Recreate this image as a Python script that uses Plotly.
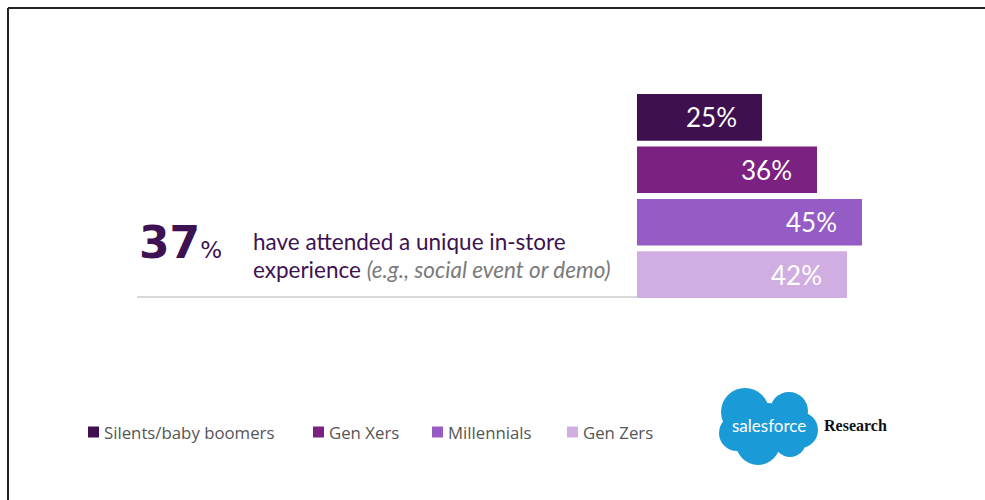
import plotly.graph_objects as go

# --- data -------------------------------------------------------------
generations = ["Silents/baby boomers", "Gen Xers", "Millennials", "Gen Zers"]
share_pct = [25, 36, 45, 42]
bar_colors = ["#3E1050", "#7A2182", "#945CC4", "#D1AEE1"]
headline_pct = 37

W, H = 985, 500


def px(x):
    """pixel x -> paper x"""
    return x / W


def py(y):
    """pixel y (from top) -> paper y"""
    return 1 - y / H


fig = go.Figure()

for name, val, col in zip(generations, share_pct, bar_colors):
    fig.add_trace(go.Bar(
        x=[val], y=[name], orientation="h", name=name,
        marker=dict(color=col, line=dict(width=0)),
        hoverinfo="x+name", showlegend=False,
    ))

annotations = []
# value labels, right aligned inside each bar
for name, val in zip(generations, share_pct):
    annotations.append(dict(
        x=val, y=name, xref="x", yref="y", text=f"{val}%",
        showarrow=False, xanchor="right", yanchor="middle", xshift=-23,
        font=dict(family="Lato", size=26, color="#FFFFFF"),
    ))

# headline figure
annotations.append(dict(
    x=px(137), y=py(242), xref="paper", yref="paper",
    text=(f"<b>{headline_pct}</b>"
          "<span style='font-family:DejaVu Sans;font-weight:normal;font-size:23px'>%</span>"),
    showarrow=False, xanchor="left", yanchor="middle",
    font=dict(family="DejaVu Sans", size=44, color="#3D1152"),
))
annotations.append(dict(
    x=px(251), y=py(241), xref="paper", yref="paper",
    text="have attended a unique in-store",
    showarrow=False, xanchor="left", yanchor="middle",
    font=dict(family="Lato", size=22.5, color="#3D1152"),
))
annotations.append(dict(
    x=px(251), y=py(269), xref="paper", yref="paper",
    text="experience <i><span style='color:#7A7A7A'>(e.g., social event or demo)</span></i>",
    showarrow=False, xanchor="left", yanchor="middle",
    font=dict(family="Lato", size=22.5, color="#3D1152"),
))

# brand text
annotations.append(dict(
    x=px(769), y=py(425), xref="paper", yref="paper", text="salesforce",
    showarrow=False, xanchor="center", yanchor="middle",
    font=dict(family="Lato", size=17, color="#FFFFFF"),
))
annotations.append(dict(
    x=px(822), y=py(425), xref="paper", yref="paper", text="<b>Research</b>",
    showarrow=False, xanchor="left", yanchor="middle",
    font=dict(family="Liberation Serif", size=16, color="#111111"),
))

shapes = [
    # frame edges
    dict(type="line", xref="paper", yref="paper", x0=px(8), x1=1, y0=py(8), y1=py(8),
         line=dict(color="#222222", width=2)),
    dict(type="line", xref="paper", yref="paper", x0=px(8), x1=px(8), y0=py(8), y1=0,
         line=dict(color="#222222", width=2)),
    # rule under the headline
    dict(type="line", xref="paper", yref="paper", x0=px(137), x1=px(637), y0=py(297), y1=py(297),
         line=dict(color="#CCCCCC", width=1.5)),
]

# key: swatch + label for each generation
legend_left = [88, 313, 432, 567]
legend_y = 432
for name, col, lx in zip(generations, bar_colors, legend_left):
    shapes.append(dict(type="rect", xref="paper", yref="paper",
                       x0=px(lx), x1=px(lx + 11), y0=py(legend_y + 5.5), y1=py(legend_y - 5.5),
                       fillcolor=col, line=dict(width=0)))
    annotations.append(dict(
        x=px(lx + 14), y=py(legend_y), xref="paper", yref="paper", text=name,
        showarrow=False, xanchor="left", yanchor="middle",
        font=dict(family="Open Sans", size=16.8, color="#555555"),
    ))

# cloud logo built from overlapping circles
cloud_blue = "#1A9BD7"
for cx, cy, r in [(745, 412, 24), (789, 411, 19), (737, 433, 18), (800, 430, 18),
                  (758, 443, 22), (790, 441, 16), (768, 425, 22)]:
    shapes.append(dict(type="circle", xref="paper", yref="paper",
                       x0=px(cx - r), x1=px(cx + r), y0=py(cy + r), y1=py(cy - r),
                       fillcolor=cloud_blue, line=dict(width=0), layer="below"))

fig.update_layout(
    width=W, height=H,
    margin=dict(l=0, r=0, t=0, b=0),
    paper_bgcolor="white", plot_bgcolor="white",
    barmode="group", bargap=0.11,
    xaxis=dict(range=[-127.4, 69.6], visible=False, fixedrange=True),
    yaxis=dict(type="category", categoryorder="array", categoryarray=generations,
               range=[7.294, -2.2356], visible=False, fixedrange=True),
    showlegend=False,
    annotations=annotations,
    shapes=shapes,
)

fig.write_html("out.html")
